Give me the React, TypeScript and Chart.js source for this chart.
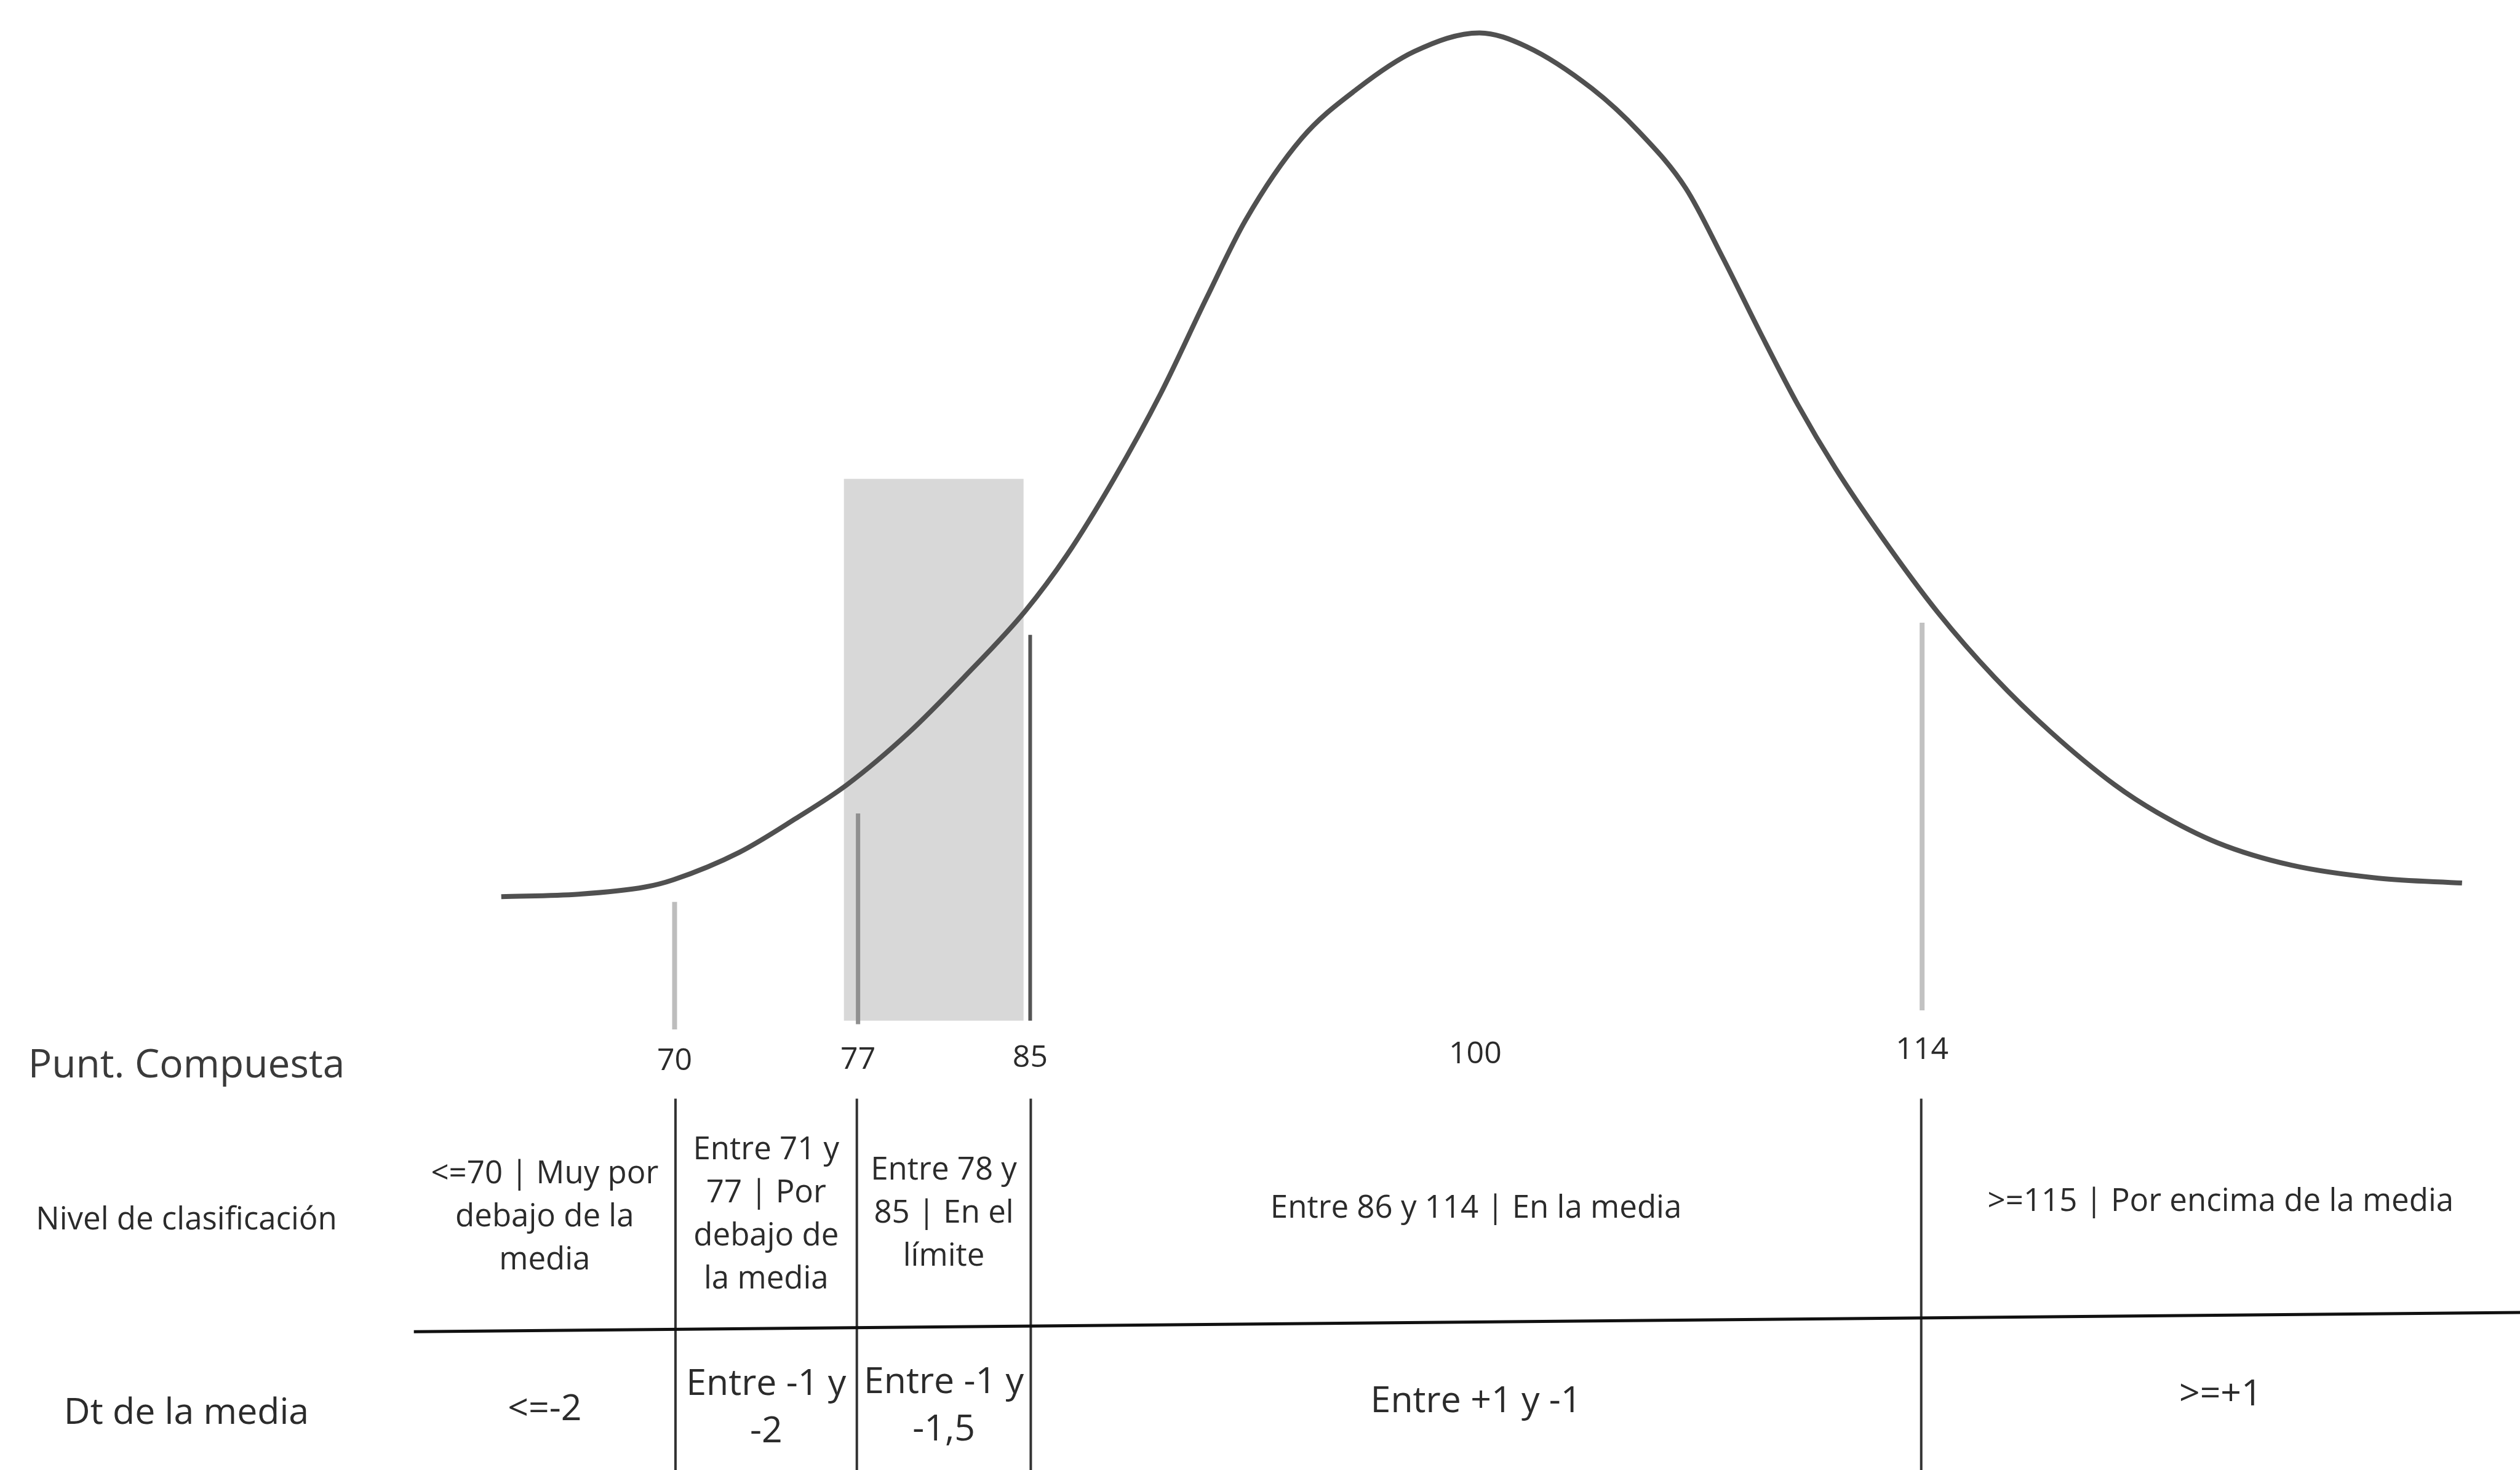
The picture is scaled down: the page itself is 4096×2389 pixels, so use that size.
import React, { useEffect, useRef } from 'react';
import { Chart, registerables } from 'chart.js';

Chart.register(...registerables);

// Bell curve (x: position on the score axis, y: height, peak = 100)
const curveX = [67.24, 69.84, 72.08, 73.03, 75.24, 77.14, 78.86, 80.92, 82.81, 84.86, 86.27, 87.84, 89.41, 90.97, 92.27, 94.16, 96.05, 97.95, 100.14, 101.73, 103.92, 105.51, 107.08, 108.32, 109.59, 110.86, 112.11, 113.68, 115.57, 117.46, 119.35, 121.51, 122.92, 124.97, 127.46, 130.38, 133.19];
const curveY = [-0.09, 0.19, 1.02, 1.86, 5.01, 8.91, 12.8, 18.74, 25.23, 32.84, 39.33, 48.05, 57.88, 69.02, 77.92, 87.38, 93.14, 97.4, 99.55, 97.96, 93.14, 88.13, 81.63, 73.65, 64.94, 56.59, 49.35, 41.37, 32.65, 25.23, 18.92, 12.8, 9.65, 6.12, 3.53, 2.04, 1.48];

// Cut-score ticks shown under the curve
const tickLabels = ['70', '77', '85', '100', '114'];
const tickPos = [73.07, 79.24, 85.03, 100, 115.03];

// Vertical reference lines (70, 77, 85, 114)
const refPos = [73.07, 79.24, 85.03, 115.03];
const refTop = [-0.7, 9.5, 30.1, 31.5];
const refBottom = [-15.4, -14.8, -14.4, -13.2];

// Shaded band (77 - 85)
const bandX = [78.76, 84.81];
const bandTop = 48.1;
const bandBottom = -14.4;

// Table
const rowTitles = ['Punt. Compuesta', 'Nivel de clasificación', 'Dt de la media'];
const levelTexts = [
  ['<=70 | Muy por', 'debajo de la', 'media'],
  ['Entre 71 y', '77 | Por', 'debajo de', 'la media'],
  ['Entre 78 y', '85 | En el', 'límite'],
  ['Entre 86 y 114 | En la media'],
  ['>=115 | Por encima de la media'],
];
const sdTexts = [
  ['<=-2'],
  ['Entre -1 y', '-2'],
  ['Entre -1 y', '-1,5'],
  ['Entre +1 y -1'],
  ['>=+1'],
];
const columnBounds = [64.3, 73.1, 79.2, 85.05, 115.0, 135.14];

const FONT = '"Open Sans", Lato, "DejaVu Sans", sans-serif';

const tablePlugin = {
  id: 'tableOverlay',
  afterDraw(chart: any) {
    const { ctx } = chart;
    const x = chart.scales.x;
    const y = chart.scales.y;
    const X = (v: number) => x.getPixelForValue(v);
    const x0 = X(columnBounds[0]);
    const skew = 0.00916; // scan tilt of the table
    const Yt = (h: number, px: number) => y.getPixelForValue(h) - (px - x0) * skew;
    const bottom = chart.height;

    ctx.save();
    // vertical table lines
    ctx.strokeStyle = '#333333';
    ctx.lineWidth = 4;
    for (let i = 1; i < columnBounds.length - 1; i++) {
      const px = X(columnBounds[i]);
      ctx.beginPath();
      ctx.moveTo(px, y.getPixelForValue(-23.4));
      ctx.lineTo(px, bottom);
      ctx.stroke();
    }
    // horizontal separator
    ctx.strokeStyle = '#111111';
    ctx.lineWidth = 5;
    const xr = X(columnBounds[columnBounds.length - 1]);
    ctx.beginPath();
    ctx.moveTo(x0, Yt(-50.28, x0));
    ctx.lineTo(xr, Yt(-50.28, xr));
    ctx.stroke();

    ctx.fillStyle = '#2b2b2b';
    ctx.textAlign = 'center';
    ctx.textBaseline = 'middle';

    // tick labels
    ctx.font = `50px ${FONT}`;
    tickLabels.forEach((t, i) => {
      const px = X(tickPos[i]);
      ctx.fillText(t, px, Yt(-19.39, px));
    });

    // row titles
    const titleX = X(56.65);
    ctx.fillStyle = '#3a3a3a';
    ctx.font = `64px ${FONT}`;
    ctx.fillText(rowTitles[0], titleX, Yt(-19.39, titleX));
    ctx.fillStyle = '#2b2b2b';
    ctx.font = `51px ${FONT}`;
    ctx.fillText(rowTitles[1], titleX, Yt(-37.2, titleX));
    ctx.font = `59px ${FONT}`;
    ctx.fillText(rowTitles[2], titleX, Yt(-59.46, titleX));

    const drawBlock = (lines: string[], cx: number, cy: number, lh: number) => {
      const n = lines.length;
      lines.forEach((t, i) => ctx.fillText(t, cx, cy + (i - (n - 1) / 2) * lh));
    };

    ctx.font = `51px ${FONT}`;
    levelTexts.forEach((lines, i) => {
      const cx = X((columnBounds[i] + columnBounds[i + 1]) / 2);
      drawBlock(lines, cx, Yt(-37.2, cx), 70);
    });
    ctx.font = `59px ${FONT}`;
    sdTexts.forEach((lines, i) => {
      const cx = X((columnBounds[i] + columnBounds[i + 1]) / 2);
      drawBlock(lines, cx, Yt(-59.46, cx), 77);
    });
    ctx.restore();
  },
};

export default function App() {
  const ref = useRef<HTMLCanvasElement | null>(null);

  useEffect(() => {
    if (!ref.current) return;
    const refColors = ['#bdbdbd', '#8f8f8f', '#555555', '#c2c2c2'];
    const refWidths = [8, 7, 6, 8];
    const refSets = refPos.map((p, i) => ({
      type: 'line' as const,
      data: [{ x: p, y: refTop[i] }, { x: p, y: refBottom[i] }],
      borderColor: refColors[i],
      borderWidth: refWidths[i],
      pointRadius: 0,
      fill: false,
    }));
    const chart = new Chart(ref.current, {
      type: 'scatter',
      data: {
        datasets: [
          {
            type: 'line',
            data: curveX.map((v, i) => ({ x: v, y: curveY[i] })),
            borderColor: '#505050',
            borderWidth: 8,
            pointRadius: 0,
            cubicInterpolationMode: 'monotone',
            fill: false,
          },
          ...refSets,
          {
            type: 'line',
            data: [{ x: bandX[0], y: bandTop }, { x: bandX[1], y: bandTop }],
            borderWidth: 0,
            borderColor: 'rgba(0,0,0,0)',
            backgroundColor: '#d8d8d8',
            pointRadius: 0,
            fill: { value: bandBottom },
          },
        ] as any,
      },
      options: {
        animation: false,
        responsive: false,
        devicePixelRatio: 1,
        events: [],
        layout: { padding: 0 },
        plugins: { legend: { display: false }, tooltip: { enabled: false } },
        scales: {
          x: { type: 'linear', min: 50.38, max: 135.14, display: false },
          y: { type: 'linear', min: -66.23, max: 103.34, display: false },
        },
      },
      plugins: [tablePlugin],
    });
    return () => chart.destroy();
  }, []);

  return (
    <div style={{ position: 'absolute', left: 0, top: 0, width: 4096, height: 2389, background: '#ffffff' }}>
      <canvas ref={ref} width={4096} height={2389} style={{ display: 'block', width: 4096, height: 2389 }} />
    </div>
  );
}
